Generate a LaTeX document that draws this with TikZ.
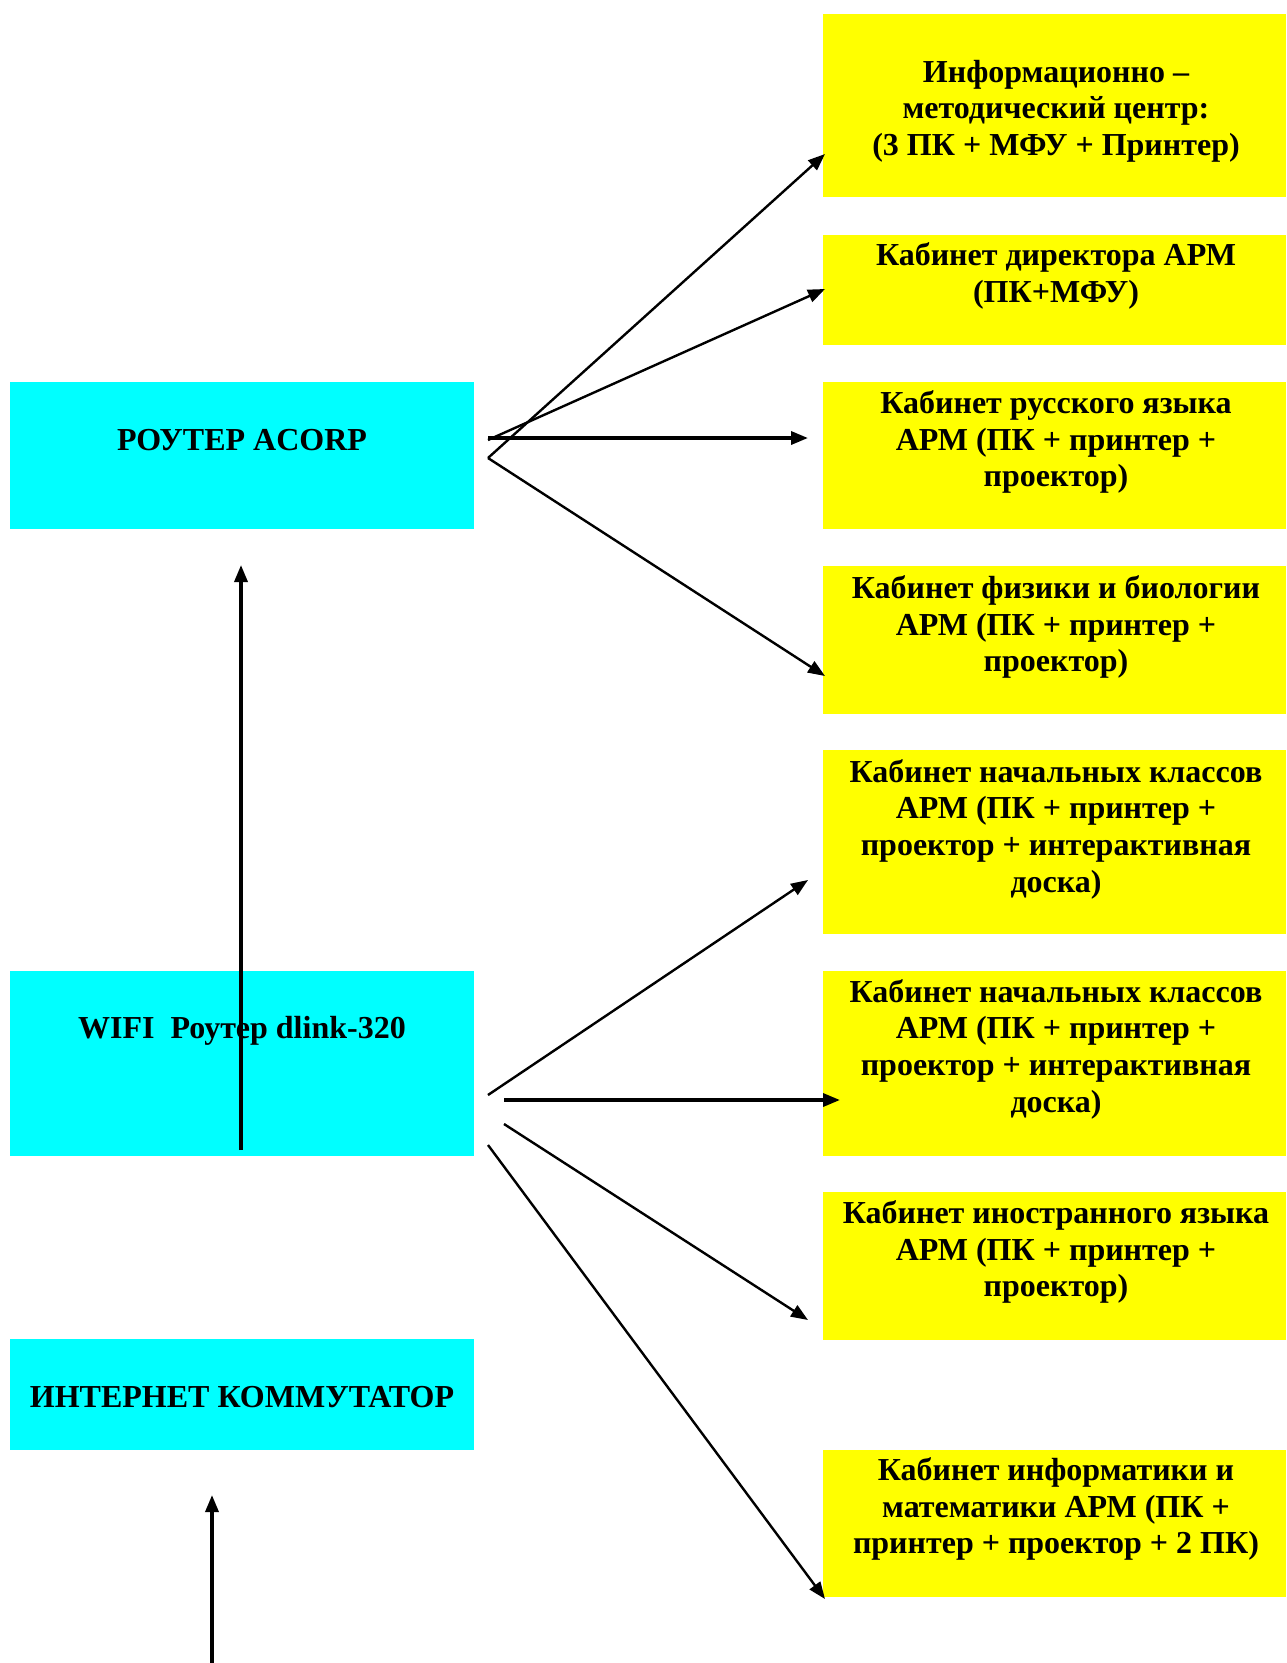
\documentclass[tikz,border=0pt]{standalone}
\usepackage{fontspec}
\setmainfont{Liberation Serif}
\usetikzlibrary{arrows.meta}
\definecolor{boxcyan}{RGB}{0,255,255}
\definecolor{boxyellow}{RGB}{255,255,0}
\tikzset{
  box/.style={draw=none, inner sep=0pt, outer sep=0pt, anchor=north west},
  cyanbox/.style={box, fill=boxcyan},
  yelbox/.style={box, fill=boxyellow, minimum width=463pt},
  lbl/.style={font=\fontsize{32}{36.7}\selectfont\bfseries, align=center, inner sep=0pt},
  arr/.style={-{Triangle[length=17pt,width=13pt]}, line width=2.4pt},
  thickarr/.style={arr, line width=3.4pt},
}
\begin{document}
\begin{tikzpicture}[x=1pt,y=-1pt]
\useasboundingbox (0,0) rectangle (1286,1663);
% cyan boxes
\node[cyanbox, minimum width=464pt, minimum height=147pt] (acorpbox) at (10,382) {};
\node[cyanbox, minimum width=464pt, minimum height=185pt] (wifibox) at (10,971) {};
\node[cyanbox, minimum width=464pt, minimum height=111pt] (inetbox) at (10,1339) {};
% yellow boxes
\node[yelbox, minimum height=183pt] (y1) at (823,14) {};
\node[yelbox, minimum height=110pt] (y2) at (823,235) {};
\node[yelbox, minimum height=147pt] (y3) at (823,382) {};
\node[yelbox, minimum height=148pt] (y4) at (823,566) {};
\node[yelbox, minimum height=184pt] (y5) at (823,750) {};
\node[yelbox, minimum height=185pt] (y6) at (823,971) {};
\node[yelbox, minimum height=148pt] (y7) at (823,1192) {};
\node[yelbox, minimum height=147pt] (y8) at (823,1450) {};
% labels
\node[lbl] (acorp) at (242,440) {РОУТЕР ACORP};
\node[lbl] (wifi) at (242,1031) {WIFI\ \ Роутер dlink-320};
\node[lbl] (inet) at (242,1397) {ИНТЕРНЕТ КОММУТАТОР};
\node[lbl] (t1) at (1056,111) {Информационно –\\методический центр:\\(3 ПК + МФУ + Принтер)};
\node[lbl] (t2) at (1056,276) {Кабинет директора АРМ\\(ПК+МФУ)};
\node[lbl] (t3) at (1056,442) {Кабинет русского языка\\АРМ (ПК + принтер +\\проектор)};
\node[lbl] (t4) at (1056,627) {Кабинет физики и биологии\\АРМ (ПК + принтер +\\проектор)};
\node[lbl] (t5) at (1056,829) {Кабинет начальных классов\\АРМ (ПК + принтер +\\проектор + интерактивная\\доска)};
\node[lbl] (t6) at (1056,1049) {Кабинет начальных классов\\АРМ (ПК + принтер +\\проектор + интерактивная\\доска)};
\node[lbl] (t7) at (1056,1252) {Кабинет иностранного языка\\АРМ (ПК + принтер +\\проектор)};
\node[lbl] (t8) at (1056,1509) {Кабинет информатики и\\математики АРМ (ПК +\\принтер + проектор + 2 ПК)};
% connector end points
\coordinate (a1s) at (488,458); \coordinate (a1e) at (825,154);
\coordinate (a2s) at (488,440); \coordinate (a2e) at (825,289);
\coordinate (a3s) at (488,438); \coordinate (a3e) at (808,438);
\coordinate (a4s) at (488,458); \coordinate (a4e) at (825,676);
\coordinate (ups) at (241,1150); \coordinate (upe) at (241,565);
\coordinate (w1s) at (488,1095); \coordinate (w1e) at (808,880);
\coordinate (w2s) at (504,1100); \coordinate (w2e) at (840,1100);
\coordinate (w3s) at (504,1124); \coordinate (w3e) at (808,1320);
\coordinate (w4s) at (488,1145); \coordinate (w4e) at (825,1599);
\coordinate (bts) at (212,1663); \coordinate (bte) at (212,1495);
% connectors
\draw[arr] (a1s) -- (a1e);
\draw[arr] (a2s) -- (a2e);
\draw[thickarr] (a3s) -- (a3e);
\draw[arr] (a4s) -- (a4e);
\draw[thickarr] (ups) -- (upe);
\draw[arr] (w1s) -- (w1e);
\draw[thickarr] (w2s) -- (w2e);
\draw[arr] (w3s) -- (w3e);
\draw[arr] (w4s) -- (w4e);
\draw[thickarr] (bts) -- (bte);
\end{tikzpicture}
\end{document}
